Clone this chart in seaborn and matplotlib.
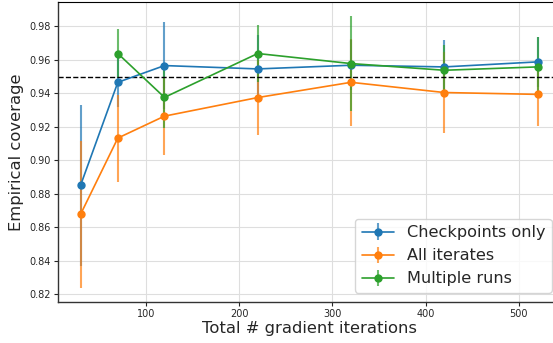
import numpy as np
import matplotlib
matplotlib.use("Agg")
import matplotlib.pyplot as plt
import seaborn as sns

# Values
iters = [30, 70, 120, 220, 320, 420, 520]

ckpt_mean = [0.885, 0.9466, 0.9566, 0.9546, 0.9568, 0.9558, 0.9588]
ckpt_err = [0.048, 0.015, 0.026, 0.020, 0.015, 0.016, 0.015]

all_mean = [0.8677, 0.9133, 0.9264, 0.9375, 0.9466, 0.9405, 0.9394]
all_err = [0.044, 0.026, 0.0235, 0.0226, 0.026, 0.024, 0.019]

multi_iters = [70, 120, 220, 320, 420, 520]
multi_mean = [0.9638, 0.9376, 0.9638, 0.9578, 0.9538, 0.9558]
multi_err = [0.0144, 0.018, 0.017, 0.0286, 0.015, 0.018]

target = 0.95

sns.set_style("whitegrid", {"axes.edgecolor": "0.2", "grid.color": "0.87",
                            "xtick.bottom": True, "ytick.left": True})
colors = sns.color_palette("tab10")

fig = plt.figure(figsize=(5.53, 3.43), dpi=100)
ax = fig.add_axes([0.1043, 0.1204, 0.909, 0.8736])

series = [
    (iters, ckpt_mean, ckpt_err, "Checkpoints only"),
    (iters, all_mean, all_err, "All iterates"),
    (multi_iters, multi_mean, multi_err, "Multiple runs"),
]
for i, (x, m, e, lab) in enumerate(series):
    ax.errorbar(x, m, yerr=e, color=colors[i], marker="o", markersize=5,
                linewidth=1.2, elinewidth=1.5, ecolor=(*colors[i], 0.7),
                label=lab)

ax.axhline(target, color="black", linestyle="--", linewidth=1)

ax.set_xticks([100, 200, 300, 400, 500])
ax.set_yticks([0.82, 0.84, 0.86, 0.88, 0.90, 0.92, 0.94, 0.96, 0.98])
ax.tick_params(axis="both", labelsize=7, length=3, width=0.8, pad=2)
ax.set_xlabel("Total # gradient iterations", fontsize=11.8, labelpad=2)
ax.set_ylabel("Empirical coverage", fontsize=11.8, labelpad=4)
for s in ["left", "bottom"]:
    ax.spines[s].set_linewidth(1.0)
ax.spines["top"].set_color("black")

ax.legend(loc="lower right", bbox_to_anchor=(551.7 / 553, 50.3 / 343),
          bbox_transform=fig.transFigure, borderaxespad=0, fontsize=11.6,
          frameon=True)

fig.savefig("out.png", dpi=100)
